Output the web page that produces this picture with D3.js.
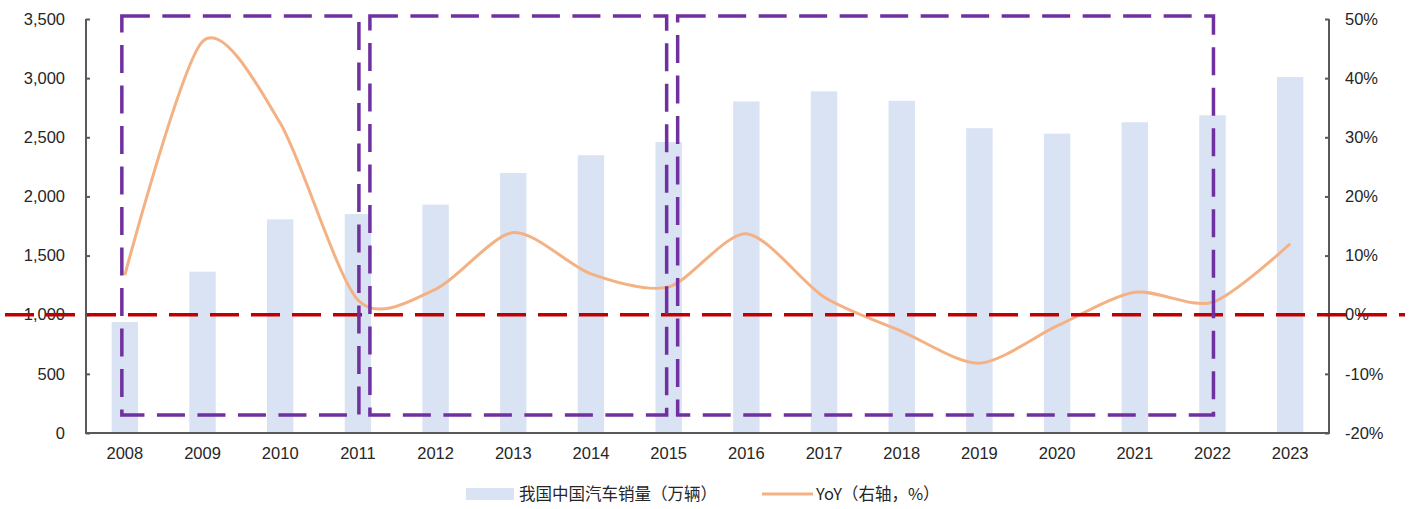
<!DOCTYPE html>
<html>
<head>
<meta charset="utf-8">
<script src="https://cdn.jsdelivr.net/npm/d3@7"></script>
<style>
  body { margin: 0; background: #fff; }
  text { font-family: "Liberation Sans", Arial, "Noto Sans CJK SC", sans-serif; }
</style>
</head>
<body>
<div id="chart"></div>
<script>
// data
var years = ["2008","2009","2010","2011","2012","2013","2014","2015",
             "2016","2017","2018","2019","2020","2021","2022","2023"];
var sales = [938, 1364, 1806, 1851, 1931, 2198, 2349, 2460,
             2803, 2888, 2808, 2577, 2531, 2627, 2686, 3009];
var yoy = [6.7, 46.2, 32.4, 2.5, 4.3, 13.9, 6.9, 4.7,
           13.7, 3.0, -2.8, -8.2, -1.9, 3.8, 2.1, 12.0];
var leftTicks = [0, 500, 1000, 1500, 2000, 2500, 3000, 3500];
var rightTicks = [-20, -10, 0, 10, 20, 30, 40, 50];
// highlighted periods (dashed boxes)
var boxes = [
  {from: "2008", to: "2011", dx0: -3, dx1: 1},
  {from: "2011", to: "2015", dx0: 12, dx1: -2},
  {from: "2015", to: "2022", dx0: 9, dx1: 1}
];
var barName = "我国中国汽车销量（万辆）";
var lineName = "YoY（右轴，%）";

var width = 1411, height = 509;
var margin = {left: 86, right: 82, top: 19, bottom: 76};

var svg = d3.select("#chart").append("svg")
    .attr("width", width)
    .attr("height", height);

var x = d3.scaleBand().domain(years)
    .range([margin.left, width - margin.right])
    .paddingInner(0.66).paddingOuter(0.33);
var yL = d3.scaleLinear().domain([0, 3500]).range([height - margin.bottom, margin.top]);
var yR = d3.scaleLinear().domain([-20, 50]).range([height - margin.bottom, margin.top]);
var cx = function (d) { return x(d) + x.bandwidth() / 2; };

//bars
svg.selectAll(".bar")
    .data(years)
    .enter().append("rect")
    .attr("x", function (d) { return x(d); })
    .attr("width", x.bandwidth())
    .attr("y", function (d, i) { return yL(sales[i]); })
    .attr("height", function (d, i) { return yL(0) - yL(sales[i]); })
    .attr("fill", "#DAE3F3");

//axes
var axisColor = "#595959";
var gL = svg.append("g")
    .attr("transform", "translate(" + margin.left + ",0)")
    .call(d3.axisRight(yL).tickValues(leftTicks).tickSize(4).tickFormat(""));
var gR = svg.append("g")
    .attr("transform", "translate(" + (width - margin.right) + ",0)")
    .call(d3.axisLeft(yR).tickValues(rightTicks).tickSize(4).tickFormat(""));
var gB = svg.append("g")
    .attr("transform", "translate(0," + yL(0) + ")")
    .call(d3.axisBottom(x).tickSize(0).tickFormat(""));
[gL, gR, gB].forEach(function (g) {
  g.selectAll("path").attr("stroke", axisColor).attr("stroke-width", 2);
  g.selectAll("line").attr("stroke", axisColor).attr("stroke-width", 2);
});
gL.select("path").attr("d", "M0," + yL(3500) + "V" + yL(0));
gR.select("path").attr("d", "M0," + yR(50) + "V" + yR(-20));
gB.select("path").attr("d", "M" + (margin.left - 1) + ",0H" + (width - margin.right + 1));

//tick labels
var fmt = d3.format(",");
svg.selectAll(".lt")
    .data(leftTicks)
    .enter().append("text")
    .attr("x", 65)
    .attr("y", function (d) { return yL(d); })
    .attr("dy", "0.35em")
    .attr("text-anchor", "end")
    .attr("font-size", 16.5)
    .attr("fill", "#262626")
    .text(function (d) { return fmt(d); });
svg.selectAll(".rt")
    .data(rightTicks)
    .enter().append("text")
    .attr("x", 1345)
    .attr("y", function (d) { return yR(d); })
    .attr("dy", "0.35em")
    .attr("font-size", 16.5)
    .attr("fill", "#262626")
    .text(function (d) { return d + "%"; });
svg.selectAll(".xt")
    .data(years)
    .enter().append("text")
    .attr("x", cx)
    .attr("y", yL(0) + 26)
    .attr("text-anchor", "middle")
    .attr("font-size", 16.5)
    .attr("fill", "#262626")
    .text(function (d) { return d; });

//YoY line
var line = d3.line()
    .x(function (d, i) { return cx(years[i]); })
    .y(function (d) { return yR(d); })
    .curve(d3.curveCardinal.tension(0.2));
svg.append("path")
    .datum(yoy)
    .attr("d", line)
    .attr("fill", "none")
    .attr("stroke", "#F4B183")
    .attr("stroke-width", 3);

//zero line
svg.append("line")
    .attr("x1", 5).attr("x2", 1405)
    .attr("y1", yR(0)).attr("y2", yR(0))
    .attr("stroke", "#C00000")
    .attr("stroke-width", 3.5)
    .attr("stroke-dasharray", "29,12");

//dashed boxes
svg.selectAll(".box")
    .data(boxes)
    .enter().append("rect")
    .attr("x", function (d) { return cx(d.from) + d.dx0; })
    .attr("width", function (d) { return cx(d.to) + d.dx1 - cx(d.from) - d.dx0; })
    .attr("y", yL(3525))
    .attr("height", yL(152) - yL(3525))
    .attr("fill", "none")
    .attr("stroke", "#7030A0")
    .attr("stroke-width", 3.5)
    .attr("stroke-dasharray", "28,12.5");

//legend
var lg = svg.append("g").attr("font-size", 16.5).attr("fill", "#262626");
lg.append("rect").attr("x", 466).attr("y", 488).attr("width", 48).attr("height", 12).attr("fill", "#DAE3F3");
lg.append("text").attr("x", 519).attr("y", 494).attr("dy", "0.35em")
    .style("font-family", "'Noto Sans CJK SC', sans-serif").text(barName);
lg.append("line").attr("x1", 762).attr("x2", 813).attr("y1", 494).attr("y2", 494)
    .attr("stroke", "#F4B183").attr("stroke-width", 3);
lg.append("text").attr("x", 816).attr("y", 494).attr("dy", "0.35em")
    .style("font-family", "'Noto Sans CJK SC', sans-serif").text(lineName);
</script>
</body>
</html>
